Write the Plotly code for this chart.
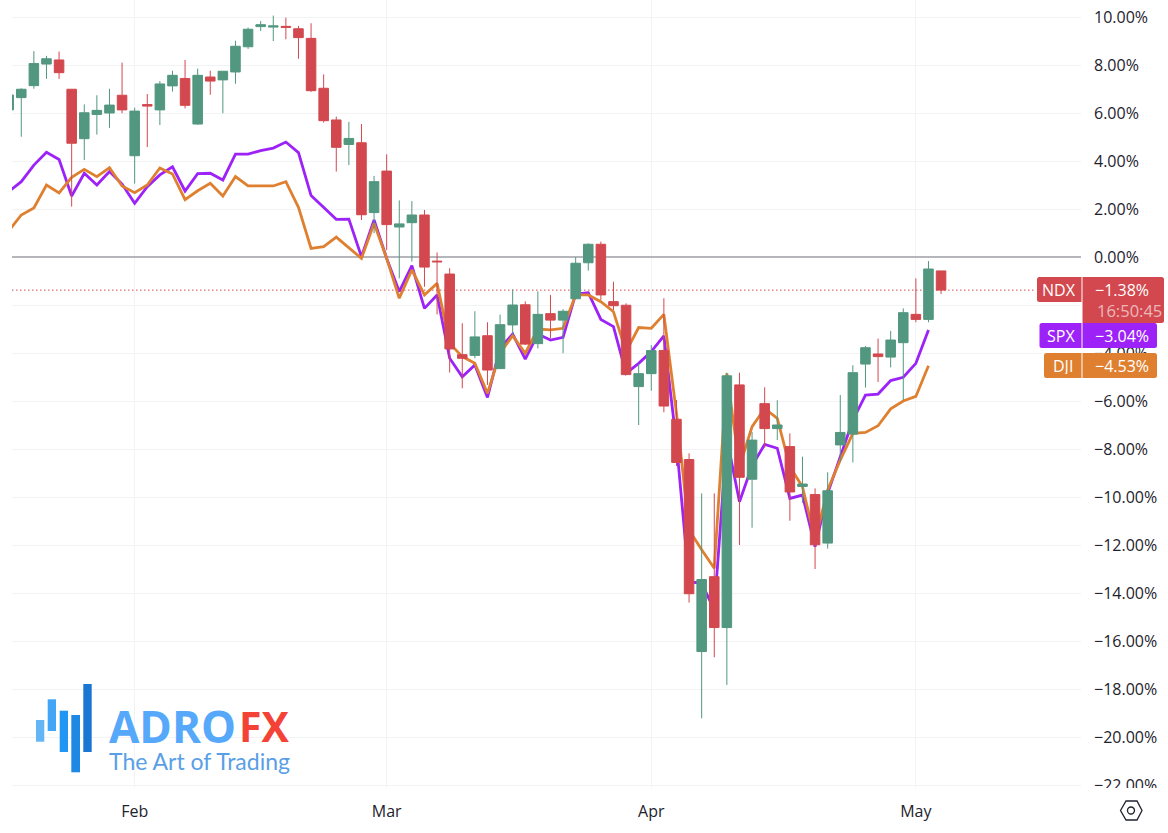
import plotly.graph_objects as go

# NDX candles (percent change), one row per session
ndx_open = [6.13,6.64,7.14,8.04,8.21,6.99,4.93,5.94,6.00,6.74,4.22,6.35,6.13,7.13,7.44,5.54,7.50,7.38,7.71,8.76,
            9.60,9.58,9.61,9.51,9.11,7.03,5.71,4.69,4.76,1.85,3.58,1.25,1.43,1.75,-0.17,-0.71,-4.07,-4.10,-3.28,-4.65,
            -2.83,-1.99,-3.61,-2.36,-2.63,-1.74,-0.24,0.53,-1.86,-2.01,-5.40,-4.86,-3.90,-6.76,-8.44,-16.44,-13.32,-15.44,-5.33,-9.26,
            -6.11,-7.15,-7.90,-9.56,-9.90,-11.92,-7.83,-7.38,-4.46,-4.04,-4.17,-3.57,-2.39,-2.60,-0.58]
ndx_high = [6.75,7.03,8.58,8.38,8.56,6.99,6.36,6.74,7.01,8.10,6.22,6.79,7.33,7.76,8.21,7.85,7.76,7.74,9.01,9.56,
            9.83,10.06,9.97,9.63,9.74,7.61,5.85,5.63,5.54,3.38,4.28,2.36,2.33,1.96,0.19,-0.47,-2.76,-2.26,-2.72,-2.40,
            -1.35,-1.85,-1.43,-1.58,-2.17,-0.01,0.57,0.64,-1.03,-1.93,-4.46,-3.67,-1.72,-5.96,-8.18,-9.85,-9.85,-4.82,-4.82,-7.29,
            -5.43,-5.97,-7.35,-8.32,-9.64,-8.97,-5.75,-4.51,-3.71,-3.40,-3.08,-2.14,-0.89,-0.17,-0.58]
ndx_low = [6.13,5.01,7.01,7.42,7.42,2.10,4.04,5.10,5.38,5.99,3.06,4.58,5.50,6.89,6.19,5.51,6.76,5.99,7.22,8.67,
           9.42,9.00,9.07,8.26,6.88,5.60,3.56,3.83,1.54,0.99,0.29,-0.89,-0.19,-1.24,-2.39,-4.81,-5.47,-4.22,-5.33,-4.67,
           -3.25,-3.67,-3.81,-3.39,-4.01,-1.74,-0.57,-1.79,-2.21,-4.92,-7.00,-5.57,-6.47,-8.71,-14.40,-19.22,-16.68,-17.83,-12.00,-11.28,
           -7.94,-7.63,-10.99,-10.24,-13.00,-12.15,-8.55,-8.56,-5.44,-5.21,-4.60,-5.96,-2.72,-2.72,-1.54]
ndx_close = [6.75,6.99,8.06,8.26,7.68,4.74,6.01,6.11,6.33,6.13,6.08,6.29,7.21,7.57,6.32,7.57,7.33,7.74,8.78,9.49,
             9.68,9.63,9.57,9.14,6.93,5.68,4.57,4.94,1.76,3.14,1.35,1.38,1.75,-0.42,-0.20,-3.83,-4.22,-3.33,-4.71,-2.82,
             -2.00,-3.63,-2.39,-2.63,-2.26,-0.26,0.53,-1.58,-2.03,-4.90,-4.86,-3.90,-6.21,-8.56,-14.03,-13.44,-15.44,-4.95,-9.18,-7.63,
             -7.15,-7.00,-9.79,-9.46,-11.99,-9.74,-7.31,-4.82,-3.78,-4.15,-3.46,-2.32,-2.60,-0.50,-1.38]

spx = [2.72,3.14,3.83,4.36,4.06,2.54,3.49,3.00,3.56,3.04,2.24,2.93,3.42,3.76,2.75,3.47,3.49,3.21,4.29,4.29,
       4.43,4.54,4.79,4.35,2.56,2.07,1.57,1.58,0.01,1.54,-0.06,-1.44,-0.36,-2.14,-1.58,-4.22,-4.99,-4.50,-5.85,-3.80,
       -3.21,-4.26,-3.21,-3.46,-3.35,-1.54,-1.49,-2.60,-2.90,-4.85,-4.43,-3.94,-3.29,-7.76,-13.53,-13.60,-14.70,-7.56,-10.20,-8.70,
       -7.81,-7.97,-10.06,-9.92,-12.07,-9.85,-8.32,-6.80,-5.75,-5.71,-5.15,-5.01,-4.43,-3.04]
dji = [1.08,1.75,2.04,3.00,2.67,3.32,3.65,3.35,3.72,2.96,2.68,3.00,3.71,3.46,2.39,2.76,3.07,2.54,3.35,2.96,
       2.96,2.96,3.14,2.07,0.36,0.43,0.83,0.40,-0.06,1.40,-0.06,-1.72,-0.54,-1.58,-1.10,-3.60,-4.15,-4.43,-5.68,-4.01,
       -3.28,-4.01,-3.00,-3.04,-2.97,-1.58,-1.58,-1.86,-2.28,-3.94,-2.94,-2.97,-2.39,-6.51,-11.38,-12.20,-12.97,-4.85,-8.74,-7.07,
       -6.31,-6.72,-8.74,-9.57,-11.79,-9.71,-8.46,-7.35,-7.31,-7.03,-6.33,-6.00,-5.81,-4.53]

sessions = list(range(len(ndx_close)))
month_positions = [10, 30, 51, 72]
month_labels = ["Feb", "Mar", "Apr", "May"]
percent_ticks = [10, 8, 6, 4, 2, 0, -2, -4, -6, -8, -10, -12, -14, -16, -18, -20, -22]
percent_labels = ["10.00%", "8.00%", "6.00%", "4.00%", "2.00%", "0.00%", "−2.00%", "−4.00%", "−6.00%", "−8.00%",
                  "−10.00%", "−12.00%", "−14.00%", "−16.00%", "−18.00%", "−20.00%", "−22.00%"]

RED, GREEN, PURPLE, ORANGE = "#D2484E", "#52977F", "#9C22F8", "#DF8030"
TEXT = "#1E222D"
FONT = "Open Sans"
W, H = 1168, 833
L, R, B = 12, 1081, 788
Y_RANGE = [(257 - B) / 24, 257 / 24]
X_RANGE = [(L - 8.67) / 12.6, (R - 8.67) / 12.6]


def xp(x):
    return (x - L) / (R - L)


def yp(y):
    return (B - y) / B


def rect(x0, y0, x1, y1, color, layer="above"):
    return dict(type="rect", xref="paper", yref="paper", x0=xp(x0), x1=xp(x1), y0=yp(y1), y1=yp(y0),
                fillcolor=color, line_width=0, layer=layer)


def rounded(x0, y0, x1, y1, color, left=True, right=True, r=2.5):
    rl, rr = (r if left else 0), (r if right else 0)
    p = (f"M {xp(x0 + rl)} {yp(y0)} L {xp(x1 - rr)} {yp(y0)} Q {xp(x1)} {yp(y0)} {xp(x1)} {yp(y0 + rr)} "
         f"L {xp(x1)} {yp(y1 - rr)} Q {xp(x1)} {yp(y1)} {xp(x1 - rr)} {yp(y1)} L {xp(x0 + rl)} {yp(y1)} "
         f"Q {xp(x0)} {yp(y1)} {xp(x0)} {yp(y1 - rl)} L {xp(x0)} {yp(y0 + rl)} Q {xp(x0)} {yp(y0)} {xp(x0 + rl)} {yp(y0)} Z")
    return dict(type="path", xref="paper", yref="paper", path=p, fillcolor=color, line_width=0, layer="above")


def text(x, y, s, size=16, color="white", family=FONT, anchor="center", bold=False, height=None):
    a = dict(xref="paper", yref="paper", x=xp(x), y=yp(y), text=f"<b>{s}</b>" if bold else s, showarrow=False,
             xanchor=anchor, yanchor="middle", font=dict(size=size, color=color, family=family),
             borderpad=0, borderwidth=0)
    if height:
        a["height"] = height
    return a


fig = go.Figure()
fig.add_trace(go.Scatter(x=sessions, y=spx, mode="lines", line=dict(color=PURPLE, width=2.8), yaxis="y", hoverinfo="skip"))
fig.add_trace(go.Scatter(x=sessions, y=dji, mode="lines", line=dict(color=ORANGE, width=2.8), yaxis="y", hoverinfo="skip"))
fig.add_trace(go.Candlestick(
    x=sessions, open=ndx_open, high=ndx_high, low=ndx_low, close=ndx_close, yaxis="y2",
    increasing=dict(line=dict(color=GREEN, width=1), fillcolor=GREEN),
    decreasing=dict(line=dict(color=RED, width=1), fillcolor=RED),
    whiskerwidth=0, hoverinfo="skip"))

shapes = [
    dict(type="line", xref="paper", yref="y", x0=0, x1=xp(1036), y0=ndx_close[-1], y1=ndx_close[-1],
         line=dict(color=RED, width=1, dash="1.5px,2.5px"), layer="below"),
    rect(1082, B, W, H, "white"),
    # price labels
    rounded(1037, 277, 1081.5, 302, RED, right=False),
    rounded(1082.5, 277, 1164, 323, RED, left=False),
    rounded(1039.5, 323, 1081.5, 348, PURPLE, right=False),
    rounded(1082.5, 323, 1157, 348, PURPLE, left=False),
    rounded(1044, 353, 1081.5, 378, ORANGE, right=False),
    rounded(1082.5, 353, 1157, 378, ORANGE, left=False),
    # logo bars
    rect(36, 720, 44.3, 741.7, "#64B5F6"),
    rect(47.7, 699.3, 56, 731, "#42A5F5"),
    rect(59.7, 710.7, 68, 752, "#2196F3"),
    rect(71.3, 715, 80, 772.3, "#1E88E5"),
    rect(83.3, 684, 91.7, 752, "#1976D2"),
    # settings icon
    dict(type="path", xref="paper", yref="paper", layer="above", line=dict(color=TEXT, width=1.3),
         path=(f"M {xp(1120.5)} {yp(810.5)} L {xp(1126)} {yp(801)} L {xp(1137)} {yp(801)} L {xp(1142)} {yp(810.5)} "
               f"L {xp(1137)} {yp(820)} L {xp(1126)} {yp(820)} Z")),
    dict(type="circle", xref="paper", yref="paper", layer="above", line=dict(color=TEXT, width=1.3),
         x0=xp(1127.5), x1=xp(1134.5), y0=yp(814), y1=yp(807)),
]

annotations = [
    text(1059, 289.5, "NDX", height=17),
    text(1122, 289.5, "−1.38%", height=17),
    text(1129.5, 310.5, "16:50:45", size=16.5, color="rgba(255,255,255,0.62)", height=17),
    text(1060.5, 335.5, "SPX", height=17),
    text(1122, 335.5, "−3.04%", height=17),
    text(1063, 365.5, "DJI", height=17),
    text(1122, 365.5, "−4.53%", height=17),
    text(109, 725.5, "ADRO", size=44, color="#56A8FA", anchor="left", bold=True),
    text(238.5, 725.5, "FX", size=41, color="#F44336", anchor="left", bold=True),
    text(109, 761, "The Art of Trading", size=23, color="#5A9FE6", anchor="left", family="Lato"),
]

fig.update_layout(
    width=W, height=H, showlegend=False, paper_bgcolor="white", plot_bgcolor="white",
    margin=dict(l=L, r=W - R, t=0, b=H - B, pad=0),
    boxgap=0.12, boxgroupgap=0.14,
    font=dict(family=FONT, size=16, color=TEXT),
    xaxis=dict(range=X_RANGE, tickmode="array", tickvals=month_positions, ticktext=month_labels,
               showgrid=True, gridcolor="#F2F3F4", gridwidth=1, zeroline=False, showline=False, ticks="",
               ticklabelstandoff=12, rangeslider=dict(visible=False), tickfont=dict(size=16)),
    yaxis=dict(range=Y_RANGE, side="right", tickmode="array", tickvals=percent_ticks, ticktext=percent_labels,
               showgrid=True, gridcolor="#F2F3F4", gridwidth=1, zeroline=True, zerolinecolor="#B4B6BC", zerolinewidth=1.5,
               showline=False, ticks="", ticklabelstandoff=12, tickfont=dict(size=16)),
    yaxis2=dict(range=Y_RANGE, overlaying="y", side="right", visible=False, showgrid=False, zeroline=False),
    shapes=shapes, annotations=annotations,
)

fig.write_html("out.html", config=dict(displayModeBar=False),
               post_script="document.body.style.margin='0';")
